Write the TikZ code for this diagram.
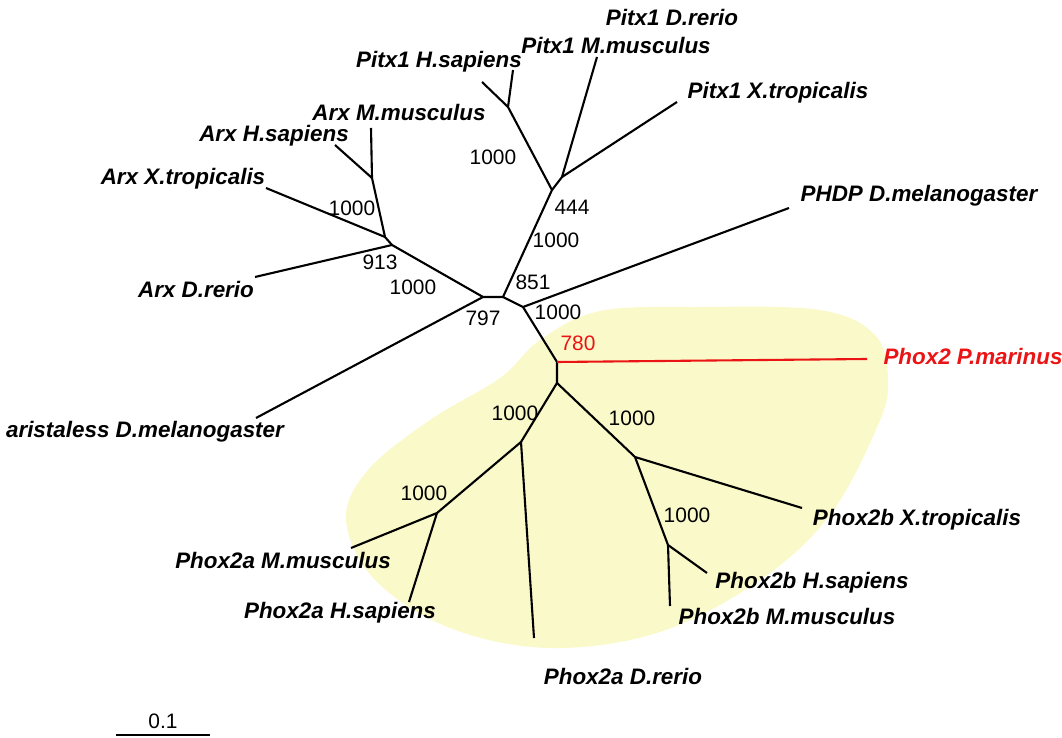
\documentclass[tikz,border=0pt]{standalone}
\usepackage{fontspec}
\setmainfont{Liberation Sans}
\usepackage{tikz}
\usetikzlibrary{positioning}
\definecolor{cladefill}{RGB}{250,249,201}
\definecolor{marred}{RGB}{235,20,20}

\begin{document}
\begin{tikzpicture}[line join=bevel,
  taxon/.style={font=\fontsize{22.5}{26}\selectfont\bfseries\itshape,inner sep=0pt},
  boot/.style={font=\fontsize{21}{25}\selectfont,inner sep=0pt},
  branch/.style={black,line width=2.1bp}]
\useasboundingbox (0bp,0bp) rectangle (1062bp,738bp);
%% Phox2 clade
\fill [cladefill] plot [smooth cycle,tension=0.6] coordinates {(540bp,398bp) (600bp,427bp) (700bp,431bp) (820bp,428bp) (875bp,403bp) (888bp,358bp) (878bp,313bp) (830bp,223bp) (760bp,158bp) (660bp,106bp) (550bp,90bp) (450bp,110bp) (375bp,158bp) (346bp,218bp) (368bp,268bp) (430bp,318bp) (500bp,360bp)};
%% inner nodes
\coordinate (pitx444) at (552bp,548bp);
\coordinate (pitxHM) at (508bp,631bp);
\coordinate (pitxMX) at (562bp,561bp);
\coordinate (arx913) at (392bp,493bp);
\coordinate (arxX) at (385bp,501bp);
\coordinate (arxHM) at (372bp,560bp);
\coordinate (c797) at (483bp,441bp);
\coordinate (c851) at (503bp,441bp);
\coordinate (c1000) at (523bp,431bp);
\coordinate (m780) at (557bp,376bp);
\coordinate (phox) at (557bp,355bp);
\coordinate (phoxA) at (521bp,296bp);
\coordinate (phoxAMH) at (437bp,225bp);
\coordinate (phoxB) at (635bp,281bp);
\coordinate (phoxBHM) at (668bp,193bp);
%% tips
\coordinate (tPitxHs) at (513bp,668bp);
\coordinate (tPitxDr) at (482bp,656bp);
\coordinate (tPitxMm) at (597bp,681bp);
\coordinate (tPitxXt) at (677bp,636bp);
\coordinate (tArxMm) at (371bp,610bp);
\coordinate (tArxHs) at (335bp,593bp);
\coordinate (tArxXt) at (266bp,550bp);
\coordinate (tArxDr) at (255bp,461bp);
\coordinate (tPHDP) at (789bp,530bp);
\coordinate (tArista) at (256bp,320bp);
\coordinate (tMar) at (867bp,379bp);
\coordinate (tP2aMm) at (351bp,190bp);
\coordinate (tP2aHs) at (409bp,136bp);
\coordinate (tP2aDr) at (534bp,100bp);
\coordinate (tP2bXt) at (802bp,230bp);
\coordinate (tP2bHs) at (707bp,165bp);
\coordinate (tP2bMm) at (670bp,132bp);
%% taxa
\node (PitxDr) at (672bp,721bp) [taxon] {Pitx1 D.rerio};
\node (PitxMm) at (616bp,693bp) [taxon] {Pitx1 M.musculus};
\node (PitxHs) at (439bp,676bp) [taxon] {Pitx1 H.sapiens};
\node (PitxXt) at (778bp,645bp) [taxon] {Pitx1 X.tropicalis};
\node (ArxMm) at (399bp,626bp) [taxon] {Arx M.musculus};
\node (ArxHs) at (274bp,602bp) [taxon] {Arx H.sapiens};
\node (ArxXt) at (183bp,559bp) [taxon] {Arx X.tropicalis};
\node (ArxDr) at (196bp,449bp) [taxon] {Arx D.rerio};
\node (PHDP) at (919bp,542bp) [taxon] {PHDP D.melanogaster};
\node (Mar) at (973bp,382bp) [taxon,text=marred] {Phox2 P.marinus};
\node (Arista) at (145bp,306bp) [taxon] {aristaless D.melanogaster};
\node (P2aMm) at (283bp,178bp) [taxon] {Phox2a M.musculus};
\node (P2aHs) at (340bp,125bp) [taxon] {Phox2a H.sapiens};
\node (P2aDr) at (623bp,62bp) [taxon] {Phox2a D.rerio};
\node (P2bXt) at (917bp,218bp) [taxon] {Phox2b X.tropicalis};
\node (P2bHs) at (812bp,155bp) [taxon] {Phox2b H.sapiens};
\node (P2bMm) at (787bp,122bp) [taxon] {Phox2b M.musculus};
%% bootstrap values
\node (bPitxHM) at (493bp,581bp) [boot] {1000};
\node (b444) at (572bp,531bp) [boot] {444};
\node (bArxX) at (352bp,530bp) [boot] {1000};
\node (b913) at (380bp,476bp) [boot] {913};
\node (bArx) at (413bp,451bp) [boot] {1000};
\node (b797) at (483bp,420bp) [boot] {797};
\node (bPitx) at (556bp,498bp) [boot] {1000};
\node (b851) at (533bp,456bp) [boot] {851};
\node (bPHDP) at (558bp,426bp) [boot] {1000};
\node (b780) at (578bp,395bp) [boot,text=marred] {780};
\node (bPhoxA) at (515bp,325bp) [boot] {1000};
\node (bPhoxB) at (632bp,320bp) [boot] {1000};
\node (bPhoxAMH) at (424bp,245bp) [boot] {1000};
\node (bPhoxBHM) at (687bp,223bp) [boot] {1000};
%% branches
\draw [branch] (c797) -- (c851) -- (c1000) -- (m780) -- (phox);
\draw [branch] (c851) -- (pitx444) -- (pitxHM) -- (tPitxHs);
\draw [branch] (pitxHM) -- (tPitxDr);
\draw [branch] (pitx444) -- (pitxMX) -- (tPitxMm);
\draw [branch] (pitxMX) -- (tPitxXt);
\draw [branch] (c797) -- (arx913) -- (arxX) -- (arxHM) -- (tArxMm);
\draw [branch] (arxHM) -- (tArxHs);
\draw [branch] (arxX) -- (tArxXt);
\draw [branch] (arx913) -- (tArxDr);
\draw [branch] (c797) -- (tArista);
\draw [branch] (c1000) -- (tPHDP);
\draw [branch,marred] (m780) -- (tMar);
\draw [branch] (phox) -- (phoxA) -- (phoxAMH) -- (tP2aMm);
\draw [branch] (phoxAMH) -- (tP2aHs);
\draw [branch] (phoxA) -- (tP2aDr);
\draw [branch] (phox) -- (phoxB) -- (tP2bXt);
\draw [branch] (phoxB) -- (phoxBHM) -- (tP2bHs);
\draw [branch] (phoxBHM) -- (tP2bMm);
%% scale
\coordinate (sA) at (116bp,3bp);
\coordinate (sB) at (210bp,3bp);
\draw [branch] (sA) -- (sB);
\node (sLab) at (163bp,17bp) [boot] {0.1};
%
\end{tikzpicture}
\end{document}
